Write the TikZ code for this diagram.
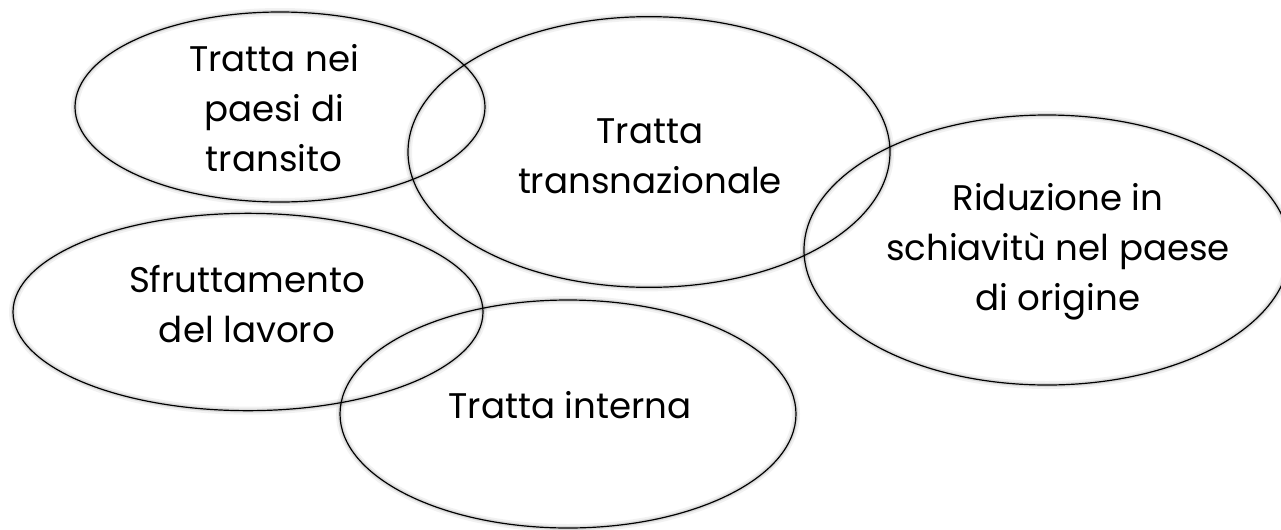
\documentclass[tikz,border=0pt]{standalone}
\usepackage{fontspec}
\setmainfont{Poppins}
\usetikzlibrary{shapes.geometric}

\begin{document}
\begin{tikzpicture}[
    x=0.75pt, y=-0.75pt,
    bubble/.style={ellipse, draw, line width=0.9pt, inner sep=0pt},
    glow/.style={preaction={draw=black, opacity=0.05, line width=6pt},
                 preaction={draw=black, opacity=0.10, line width=3pt}},
    testo/.style={align=center, font=\fontsize{26.7}{37.5}\selectfont}
]
\useasboundingbox (0,0) rectangle (1281,529);

% Ellissi
\node[bubble, glow, minimum width=307.5pt, minimum height=142.5pt] (transito) at (280,107) {};
\node[bubble, glow, minimum width=361.5pt, minimum height=203pt] (transnaz) at (649,152) {};
\node[bubble, glow, minimum width=364.5pt, minimum height=202.5pt] (schiavitu) at (1047,250) {};
\node[bubble, glow, minimum width=352.5pt, minimum height=148pt] (lavoro) at (248,312) {};
\node[bubble, glow, minimum width=342pt, minimum height=171pt] (interna) at (568,414) {};

% Testi
\node[testo] (t1) at (274,108) {Tratta nei\\paesi di\\transito};
\node[testo] (t2) at (650,156) {Tratta\\transnazionale};
\node[testo] (t3) at (1058,252) {Riduzione in\\schiavitù nel paese\\di origine};
\node[testo] (t4) at (247,304) {Sfruttamento\\del lavoro};
\node[testo] (t5) at (570,405) {Tratta interna};

\end{tikzpicture}
\end{document}
